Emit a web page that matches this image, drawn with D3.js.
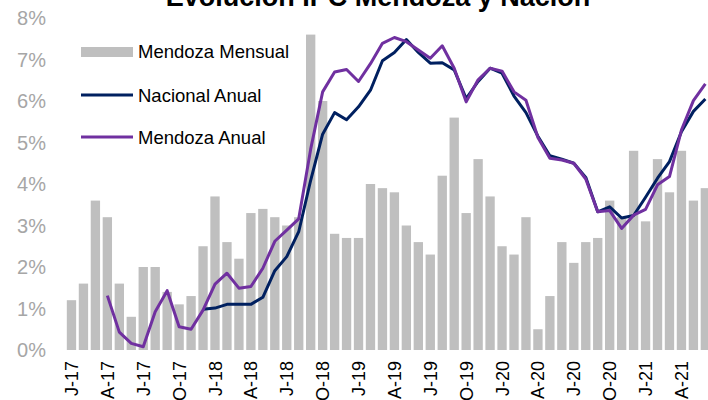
<!DOCTYPE html>
<html>
<head>
<meta charset="utf-8">
<script src="https://cdn.jsdelivr.net/npm/d3@7"></script>
<style>
  body { margin: 0; background: #fff; }
  svg { display: block; font-family: "Liberation Sans", Arial, sans-serif; }
</style>
</head>
<body>
<div id="chart"></div>
<script>
// months Jan-17 .. Jun-21
var months = ["E-17","F-17","M-17","A-17","M-17","J-17","J-17","A-17","S-17","O-17","N-17","D-17",
  "E-18","F-18","M-18","A-18","M-18","J-18","J-18","A-18","S-18","O-18","N-18","D-18",
  "E-19","F-19","M-19","A-19","M-19","J-19","J-19","A-19","S-19","O-19","N-19","D-19",
  "E-20","F-20","M-20","A-20","M-20","J-20","J-20","A-20","S-20","O-20","N-20","D-20",
  "E-21","F-21","M-21","A-21","M-21","J-21"];

// tick labels shown every 3 months
var tickLabels = ["J-17","A-17","J-17","O-17","J-18","A-18","J-18","O-18","J-19","A-19","J-19","O-19",
  "J-20","A-20","J-20","O-20","J-21","A-21"];

var mendozaMensual = [1.2,1.6,3.6,3.2,1.6,0.8,2.0,2.0,1.4,1.1,1.3,2.5,
  3.7,2.6,2.2,3.3,3.4,3.2,3.0,3.2,7.6,6.0,2.8,2.7,
  2.7,4.0,3.9,3.8,3.0,2.6,2.3,4.2,5.6,3.3,4.6,3.7,
  2.5,2.3,3.2,0.5,1.3,2.6,2.1,2.6,2.7,3.6,3.2,4.8,
  3.1,4.6,3.8,4.8,3.6,3.9];

var nacionalAnual = [null,null,null,null,null,null,null,null,null,null,null,0.98,
  1.01,1.1,1.1,1.1,1.27,1.91,2.25,2.85,4.09,5.2,5.72,5.55,
  5.86,6.26,6.97,7.17,7.48,7.17,6.91,6.92,6.75,6.06,6.47,6.79,
  6.67,6.12,5.72,5.15,4.68,4.6,4.5,4.16,3.33,3.45,3.18,3.24,
  3.68,4.14,4.54,5.26,5.75,6.05];

var mendozaAnual = [null,null,null,1.31,0.43,0.16,0.08,0.92,1.43,0.56,0.5,0.96,
  1.59,1.85,1.49,1.53,1.97,2.62,2.89,3.16,4.84,6.22,6.7,6.76,
  6.47,6.9,7.39,7.53,7.43,7.23,7.03,7.33,6.79,5.98,6.51,6.79,
  6.72,6.22,6.02,5.12,4.62,4.58,4.5,4.12,3.33,3.36,2.93,3.25,
  3.39,3.98,4.18,5.3,6.01,6.41];

var yTicks = [0,1,2,3,4,5,6,7,8];

var width = 708, height = 400;

var svg = d3.select("#chart").append("svg")
    .attr("width", width)
    .attr("height", height);

var x = d3.scaleBand()
    .domain(d3.range(months.length))
    .range([65.5, 65.5 + 11.96 * months.length])
    .paddingInner(0.22)
    .paddingOuter(0.11);

var y = d3.scaleLinear()
    .domain([0, 8])
    .range([350, 18]);

// bars
svg.append("g").selectAll("rect")
    .data(mendozaMensual)
    .enter()
    .append("rect")
    .attr("x", function(d, i) { return x(i); })
    .attr("y", function(d) { return y(d); })
    .attr("width", x.bandwidth())
    .attr("height", function(d) { return y(0) - y(d); })
    .attr("fill", "#bfbfbf");

var line = d3.line()
    .defined(function(d) { return d != null; })
    .x(function(d, i) { return x(i) + x.bandwidth() / 2; })
    .y(function(d) { return y(d); });

svg.append("path")
    .datum(nacionalAnual)
    .attr("d", line)
    .attr("fill", "none")
    .attr("stroke", "#002060")
    .attr("stroke-width", 3)
    .attr("stroke-linejoin", "round");

svg.append("path")
    .datum(mendozaAnual)
    .attr("d", line)
    .attr("fill", "none")
    .attr("stroke", "#7030a0")
    .attr("stroke-width", 3)
    .attr("stroke-linejoin", "round");

// y axis labels
svg.append("g").selectAll("text")
    .data(yTicks)
    .enter()
    .append("text")
    .attr("x", 46)
    .attr("y", function(d) { return y(d); })
    .attr("dy", "0.35em")
    .attr("text-anchor", "end")
    .attr("font-size", 20)
    .attr("fill", "#a6a6a6")
    .text(function(d) { return d + "%"; });

// x tick labels, every 3rd month
svg.append("g").selectAll("text")
    .data(tickLabels)
    .enter()
    .append("text")
    .attr("transform", function(d, i) {
      var cx = x(i * 3) + x.bandwidth() / 2;
      return "translate(" + (cx + 6.5) + ",361) rotate(-90)";
    })
    .attr("text-anchor", "end")
    .attr("font-size", 18)
    .attr("fill", "#000")
    .text(function(d) { return d; });

// title (top partly cut off, as in the source)
svg.append("text")
    .attr("x", 378)
    .attr("y", 6)
    .attr("text-anchor", "middle")
    .attr("font-size", 27)
    .attr("font-weight", "bold")
    .attr("fill", "#000")
    .text("Evolución IPC Mendoza y Nación");

// legend
var legend = svg.append("g");
legend.append("rect")
    .attr("x", 81).attr("y", 47)
    .attr("width", 52).attr("height", 10)
    .attr("fill", "#bfbfbf");
legend.append("text")
    .attr("x", 138).attr("y", 58)
    .attr("font-size", 18.5)
    .text("Mendoza Mensual");

legend.append("line")
    .attr("x1", 81).attr("x2", 133)
    .attr("y1", 95).attr("y2", 95)
    .attr("stroke", "#002060").attr("stroke-width", 3);
legend.append("text")
    .attr("x", 138).attr("y", 101.5)
    .attr("font-size", 18.5)
    .text("Nacional Anual");

legend.append("line")
    .attr("x1", 81).attr("x2", 133)
    .attr("y1", 137).attr("y2", 137)
    .attr("stroke", "#7030a0").attr("stroke-width", 3);
legend.append("text")
    .attr("x", 138).attr("y", 143.5)
    .attr("font-size", 18.5)
    .text("Mendoza Anual");
</script>
</body>
</html>
